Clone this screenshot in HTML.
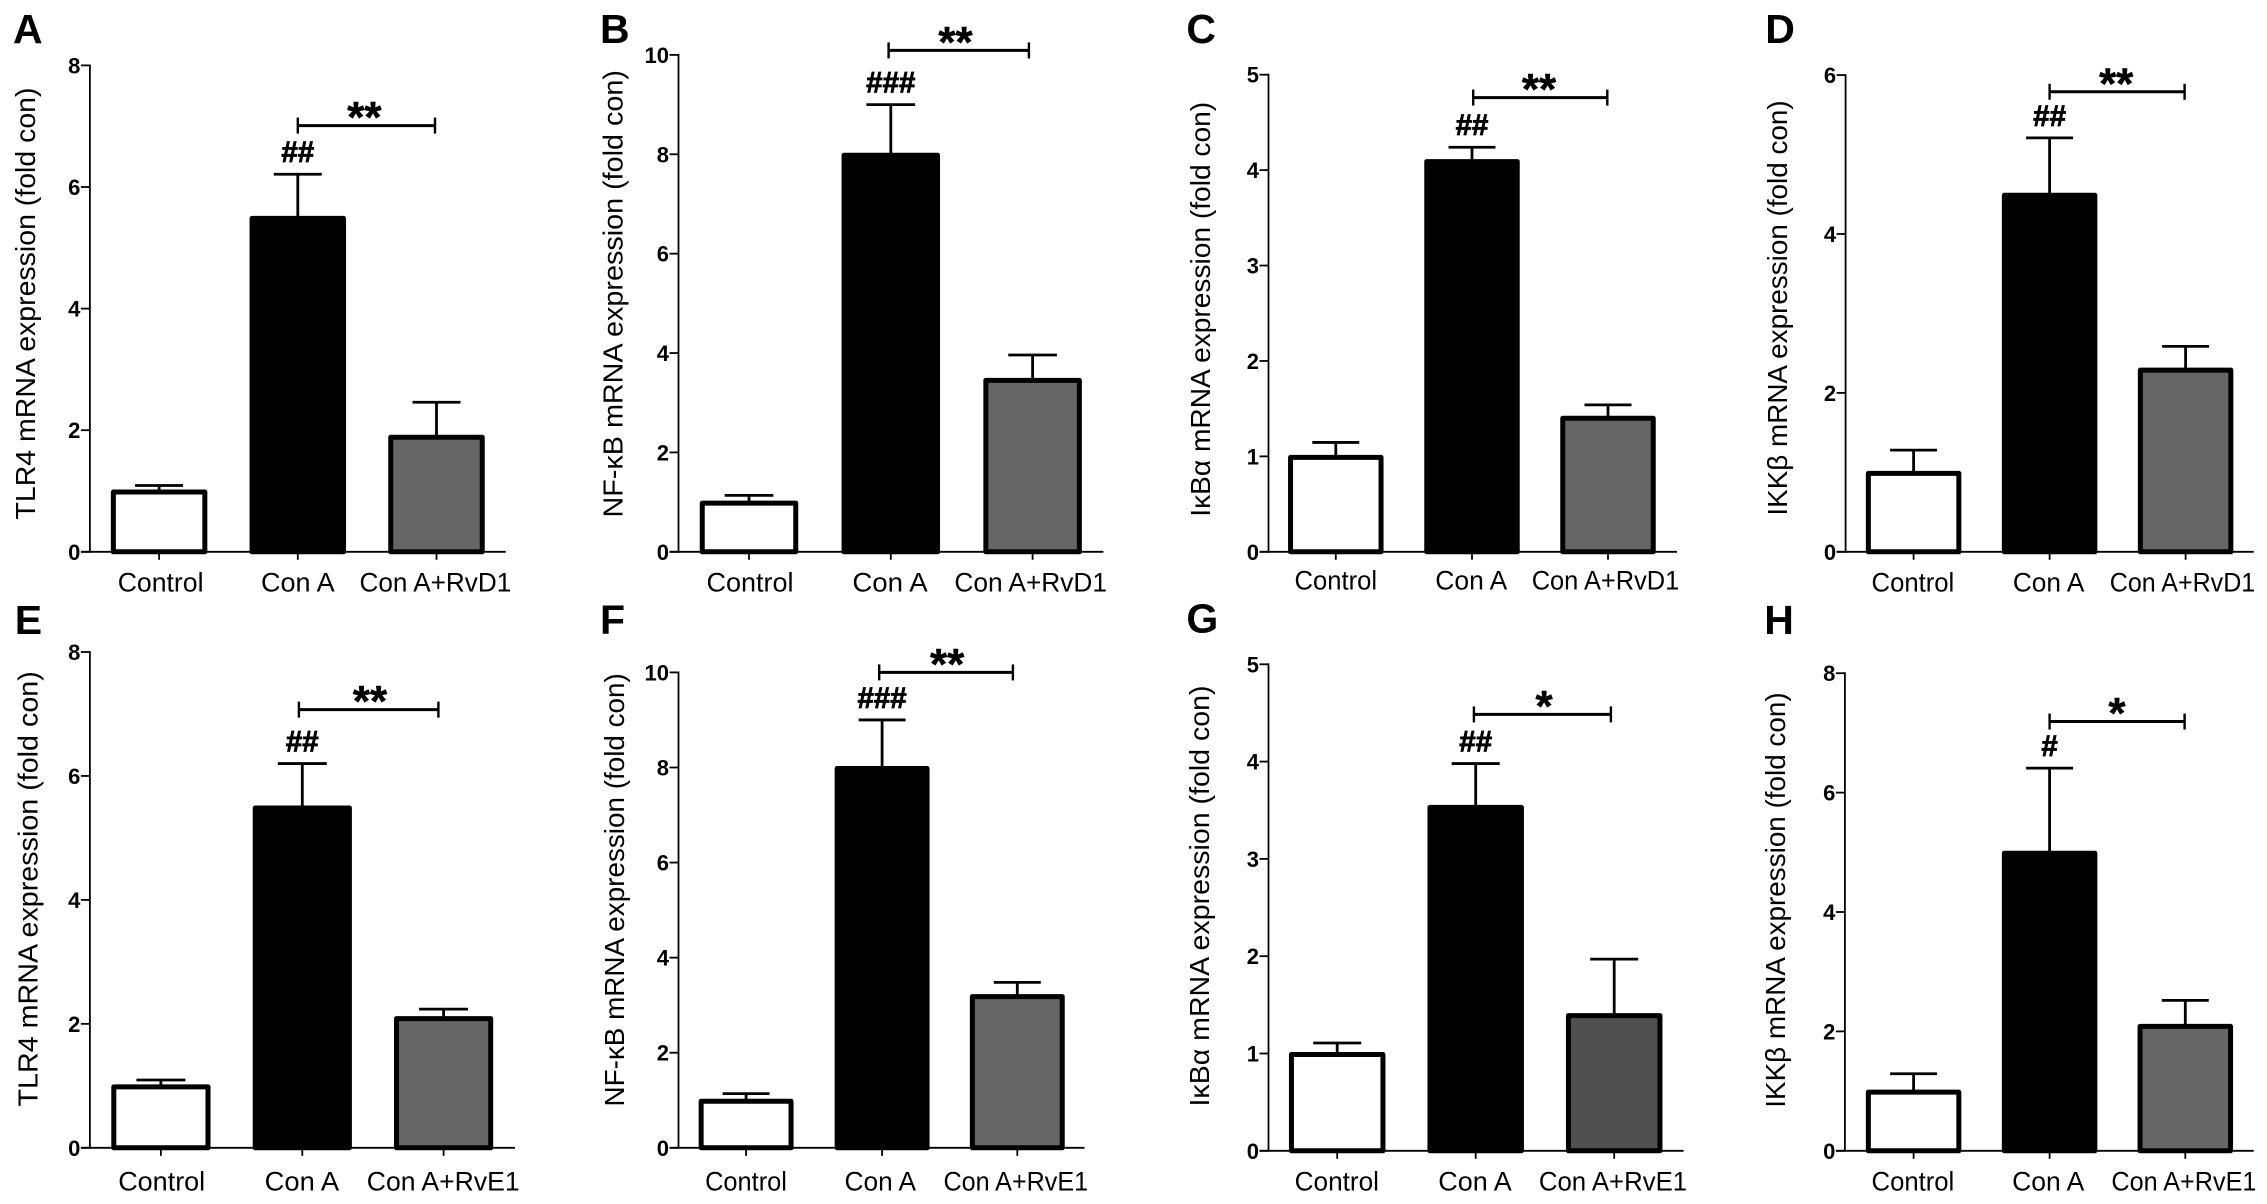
<!DOCTYPE html>
<html lang="en">
<head>
<meta charset="utf-8">
<title>mRNA expression bar charts</title>
<style>
html,body{margin:0;padding:0;background:#fff;width:2267px;height:1204px;overflow:hidden}
svg{display:block}
text{font-family:"Liberation Sans",Arial,sans-serif;fill:#000}
</style>
</head>
<body>
<svg id="fig" xmlns="http://www.w3.org/2000/svg" width="2267" height="1204" viewBox="0 0 2267 1204"></svg>
<script>
// ---- Chart data ----
const categoriesRvD1 = ['Control', 'Con A', 'Con A+RvD1'];
const categoriesRvE1 = ['Control', 'Con A', 'Con A+RvE1'];

const meansA = [1.0, 5.5, 1.9];
const errorTopsA = [1.09, 6.21, 2.46];
const meansB = [1.0, 8.0, 3.47];
const errorTopsB = [1.135, 9.0, 3.96];
const meansC = [1.0, 4.1, 1.41];
const errorTopsC = [1.146, 4.24, 1.54];
const meansD = [1.0, 4.5, 2.3];
const errorTopsD = [1.28, 5.21, 2.586];
const meansE = [1.0, 5.5, 2.1];
const errorTopsE = [1.094, 6.2, 2.237];
const meansF = [1.0, 8.0, 3.2];
const errorTopsF = [1.14, 9.0, 3.48];
const meansG = [1.0, 3.54, 1.4];
const errorTopsG = [1.108, 3.98, 1.97];
const meansH = [1.0, 5.0, 2.1];
const errorTopsH = [1.29, 6.41, 2.52];

const ticksEight = [0, 2, 4, 6, 8];
const ticksTen = [0, 2, 4, 6, 8, 10];
const ticksFive = [0, 1, 2, 3, 4, 5];
const ticksSix = [0, 2, 4, 6];

const titleTLR4 = 'TLR4 mRNA expression (fold con)';
const titleNFKB = 'NF-\u03BAB mRNA expression (fold con)';
const titleIKBA = 'I\u03BAB\u03B1 mRNA expression (fold con)';
const titleIKKB = 'IKK\u03B2 mRNA expression (fold con)';

const bracketLevels = [7.01, 10.09, 4.76, 5.79, 7.07, 10.0, 4.485, 7.19];
const hashLabels = ['##', '###', '##', '##', '##', '###', '##', '#'];
const starLabels = ['**', '**', '**', '**', '**', '**', '*', '*'];

// ---- Panel wiring and layout (geometry only) ----
const panels = [
  {id:'A', cats:categoriesRvD1, means:meansA, errs:errorTopsA, ticks:ticksEight, title:titleTLR4,
   ax:89.9, right:505.7, top:65.4, base:551.8, cx:[159.1,297.8,436.5], bw:95, cap:48,
   br:[297.8,435], starX:364.4, titleX:35, titleY:519.5, titleLen:432,
   lblX:[160.6,297.8,435.4], lblY:591.5, lblW:[85.8,73.6,151.7], letterX:13, letterY:42.8, fill3:'#666666'},
  {id:'B', cats:categoriesRvD1, means:meansB, errs:errorTopsB, ticks:ticksTen, title:titleNFKB,
   ax:678.5, right:1103.4, top:54.9, base:551.8, cx:[749,890.8,1032.6], bw:97, cap:48.7,
   br:[888.6,1028.9], starX:955.5, titleX:622.4, titleY:517.5, titleLen:447.5,
   lblX:[750,890,1030.7], lblY:591.5, lblW:[87,75.3,152.7], letterX:600, letterY:42.8, fill3:'#666666'},
  {id:'C', cats:categoriesRvD1, means:meansC, errs:errorTopsC, ticks:ticksFive, title:titleIKBA,
   ax:1268.5, right:1677, top:74.7, base:551.8, cx:[1335.8,1472,1608], bw:94, cap:47,
   br:[1473.2,1607.3], starX:1539, titleX:1210, titleY:516.7, titleLen:414.8,
   lblX:[1335.8,1471.3,1605.5], lblY:589.5, lblW:[82.5,72,147.6], letterX:1186.4, letterY:42.8, fill3:'#666666'},
  {id:'D', cats:categoriesRvD1, means:meansD, errs:errorTopsD, ticks:ticksSix, title:titleIKKB,
   ax:1845.6, right:2253.7, top:75.1, base:551.8, cx:[1913.6,2049.6,2185.6], bw:94, cap:47,
   br:[2049.6,2184.6], starX:2116.2, titleX:1787, titleY:515.6, titleLen:415.2,
   lblX:[1912.9,2048.6,2182.5], lblY:591.5, lblW:[82.7,71.5,145.4], letterX:1765.3, letterY:43, fill3:'#666666'},
  {id:'E', cats:categoriesRvE1, means:meansE, errs:errorTopsE, ticks:ticksEight, title:titleTLR4,
   ax:89.9, right:515, top:652, base:1147.8, cx:[160.9,302.3,443.6], bw:97.7, cap:49,
   br:[298.9,438.4], starX:370, titleX:37.6, titleY:1106.5, titleLen:435.3,
   lblX:[161.7,301.9,443.2], lblY:1190.5, lblW:[87,74.4,152.8], letterX:14.8, letterY:633.9, fill3:'#666666'},
  {id:'F', cats:categoriesRvE1, means:meansF, errs:errorTopsF, ticks:ticksTen, title:titleNFKB,
   ax:678.5, right:1084.5, top:672.4, base:1147.8, cx:[746.1,882.1,1017.3], bw:93.4, cap:47,
   br:[879.2,1012.9], starX:947.1, titleX:624.2, titleY:1106.5, titleLen:433.3,
   lblX:[746,880.3,1015.8], lblY:1190.5, lblW:[81.8,71.6,144.7], letterX:600, letterY:633.9, fill3:'#666666'},
  {id:'G', cats:categoriesRvE1, means:meansG, errs:errorTopsG, ticks:ticksFive, title:titleIKBA,
   ax:1268.5, right:1683.6, top:664.3, base:1150.8, cx:[1337.2,1475.7,1614.2], bw:95, cap:48,
   br:[1473.9,1610.9], starX:1544, titleX:1208.8, titleY:1106.5, titleLen:421,
   lblX:[1336.8,1475,1613], lblY:1190.5, lblW:[84.3,73.4,148.3], letterX:1186.4, letterY:632.7, fill3:'#505050'},
  {id:'H', cats:categoriesRvE1, means:meansH, errs:errorTopsH, ticks:ticksEight, title:titleIKKB,
   ax:1844.9, right:2253.7, top:673.2, base:1150.8, cx:[1913.6,2049.6,2185.3], bw:94, cap:47,
   br:[2049.6,2184.6], starX:2116.9, titleX:1785, titleY:1107.7, titleLen:415.3,
   lblX:[1912.9,2048.2,2183.9], lblY:1190.5, lblW:[82.7,72.2,145], letterX:1764.3, letterY:633.9, fill3:'#666666'}
];

const SVGNS = 'http://www.w3.org/2000/svg';
const root = document.getElementById('fig');

function make(tag, attrs, parent, content) {
  const node = document.createElementNS(SVGNS, tag);
  Object.keys(attrs).forEach(function (k) { node.setAttribute(k, attrs[k]); });
  if (content !== undefined) node.textContent = content;
  parent.appendChild(node);
  return node;
}

panels.forEach(function (p, idx) {
  const key = p.id.toLowerCase();
  const maxVal = p.ticks[p.ticks.length - 1];
  const yScale = function (v) { return p.base - (v / maxVal) * (p.base - p.top); };

  const g = make('g', {}, root);
  
  

  // panel letter
  const letter = make('text', {x:p.letterX, y:p.letterY, 'font-size':41, 'font-weight':'bold'}, g, p.id);
  
  

  // y-axis title
  const title = make('text', {
    x:p.titleX, y:p.titleY, 'font-size':28, textLength:p.titleLen, lengthAdjust:'spacingAndGlyphs',
    transform:'rotate(-90 ' + p.titleX + ' ' + p.titleY + ')'
  }, g, p.title);
  
  

  // bars (behind axes)
  p.means.forEach(function (m, i) {
    const top = yScale(m) - 1.5;
    const sw = 5;
    const w = p.bw + 1.5;
    const fills = ['#ffffff', '#000000', p.fill3];
    const errY = yScale(p.errs[i]);

    const stem = make('line', {x1:p.cx[i], x2:p.cx[i], y1:errY, y2:top + 1, stroke:'#000', 'stroke-width':2.8}, g);
    
    

    const cap = make('line', {x1:p.cx[i] - p.cap / 2, x2:p.cx[i] + p.cap / 2, y1:errY, y2:errY, stroke:'#000', 'stroke-width':2.8}, g);
    
    

    const bar = make('rect', {
      x:p.cx[i] - w / 2 + sw / 2, y:top + sw / 2, width:w - sw, height:Math.max(0, p.base - top - sw / 2),
      fill:fills[i], stroke:'#000', 'stroke-width':sw, 'stroke-linejoin':'round'
    }, g);
    
    
  });

  // y axis
  const yAxis = make('line', {x1:p.ax, x2:p.ax, y1:p.top - 0.9, y2:p.base + 0.9, stroke:'#000', 'stroke-width':1.8}, g);
  
  

  p.ticks.forEach(function (t) {
    const y = yScale(t);
    const tick = make('line', {x1:p.ax - 9, x2:p.ax, y1:y, y2:y, stroke:'#000', 'stroke-width':1.8}, g);
    
    

    const lab = make('text', {x:p.ax - 9.5, y:y + 8, 'font-size':22, 'font-weight':'bold', 'text-anchor':'end'}, g, String(t));
    
    
  });

  // x axis
  const xAxis = make('line', {x1:p.ax - 9, x2:p.right, y1:p.base, y2:p.base, stroke:'#000', 'stroke-width':1.8}, g);
  
  

  p.cats.forEach(function (c, i) {
    const tick = make('line', {x1:p.cx[i], x2:p.cx[i], y1:p.base, y2:p.base + 8, stroke:'#000', 'stroke-width':1.8}, g);
    
    

    const lab = make('text', {
      x:p.lblX[i], y:p.lblY, 'font-size':27, 'text-anchor':'middle',
      textLength:p.lblW[i], lengthAdjust:'spacingAndGlyphs'
    }, g, c);
    
    
  });

  // significance bracket
  const by = yScale(bracketLevels[idx]);
  const brLine = make('line', {x1:p.br[0], x2:p.br[1], y1:by, y2:by, stroke:'#000', 'stroke-width':3}, g);
  
  

  p.br.forEach(function (bx, i) {
    const end = make('line', {x1:bx, x2:bx, y1:by - 8, y2:by + 8, stroke:'#000', 'stroke-width':2.4}, g);
    
    
  });

  const stars = make('text', {x:p.starX, y:by + 6.6, 'font-size':44, 'font-weight':'bold', 'text-anchor':'middle', stroke:'#000', 'stroke-width':0.5}, g, starLabels[idx]);
  
  

  const hash = make('text', {x:p.cx[1], y:yScale(p.errs[1]) - 12, 'font-size':29.5, 'font-weight':'bold', 'text-anchor':'middle', stroke:'#000', 'stroke-width':0.8}, g, hashLabels[idx]);
  
  
});
</script>
</body>
</html>
